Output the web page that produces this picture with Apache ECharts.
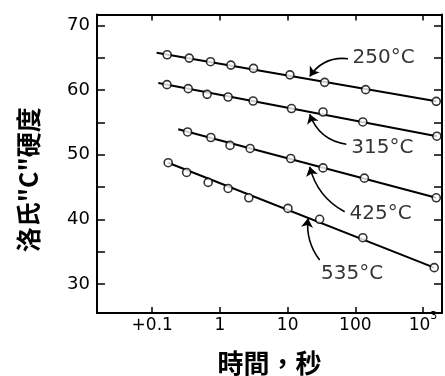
<!DOCTYPE html>
<html><head><meta charset="utf-8">
<script src="https://cdn.jsdelivr.net/npm/echarts@6/dist/echarts.min.js"></script>
<style>html,body{margin:0;padding:0;background:#fff}#c{width:445px;height:376px}</style>
</head><body><div id="c"></div>
<script>
const temps = ['250°C', '315°C', '425°C', '535°C'];
const time250 = [0.166, 0.352, 0.726, 1.45, 3.13, 10.8, 35.2, 142, 1567];
const hrc250  = [65.47, 64.95, 64.39, 63.87, 63.36, 62.36, 61.2, 60.07, 58.26];
const time315 = [0.165, 0.340, 0.647, 1.32, 3.09, 11.4, 33.3, 129, 1600];
const hrc315  = [60.84, 60.22, 59.34, 58.93, 58.31, 57.14, 56.61, 55.07, 52.86];
const time425 = [0.333, 0.735, 1.41, 2.79, 11.1, 33.3, 136, 1567];
const hrc425  = [53.52, 52.66, 51.44, 50.97, 49.41, 47.96, 46.37, 43.33];
const time535 = [0.172, 0.322, 0.670, 1.32, 2.67, 10.1, 29.7, 129, 1462];
const hrc535  = [48.76, 47.25, 45.71, 44.78, 43.33, 41.69, 40.0, 37.15, 32.52];
// fitted straight lines (start / end)
const fitStartTime = [0.116, 0.123, 0.242, 0.172];
const fitStartHrc  = [65.78, 61.09, 53.94, 48.76];
const fitEndTime   = [1567, 1600, 1567, 1462];
const fitEndHrc    = [58.26, 52.86, 43.33, 32.52];
// annotation labels and arrows
const labelTime = [261, 250, 236, 89.8];
const labelHrc  = [64.98, 51.0, 40.89, 31.54];
const arrowFromTime = [77.8, 73.6, 69.5, 29.7];
const arrowFromHrc  = [64.86, 51.62, 41.17, 33.71];
const arrowToTime   = [21.2, 21.2, 21.2, 20.0];
const arrowToHrc    = [62.12, 56.25, 48.12, 40.15];
const arrowCurve    = [-0.3, 0.3, 0.22, 0.2];
// axis ticks
const xTickValues = [0.1, 1, 10, 100, 1000];
const xTickLabels = ['{b|+0.1}', '{b|1}', '{b|10}', '{b|100}', '{b|10}{s|3}'];
const yTickValues = [30, 40, 50, 60, 70];

const times = [time250, time315, time425, time535];
const hrcs = [hrc250, hrc315, hrc425, hrc535];

const FONT = 'DejaVu Sans';
const X_MIN = 0.01528, X_MAX = 1905, Y_MIN = 25.5, Y_MAX = 71.7;

function xLabel(v) {
  for (let i = 0; i < xTickValues.length; i++) {
    if (Math.abs(Math.log10(v) - Math.log10(xTickValues[i])) < 1e-6) return xTickLabels[i];
  }
  return '';
}
function yLabel(v) {
  return yTickValues.indexOf(v) >= 0 ? String(v) : '';
}

const axisLineStyle = { color: '#000', width: 2 };
const xBase = {
  type: 'log', logBase: 10, min: X_MIN, max: X_MAX,
  axisLine: { show: true, lineStyle: axisLineStyle },
  axisTick: { show: true, inside: true, length: 6, lineStyle: { color: '#000', width: 1.5 } },
  splitLine: { show: false }, minorTick: { show: false }, minorSplitLine: { show: false }
};
const yBase = {
  type: 'value', min: Y_MIN, max: Y_MAX,
  axisLine: { show: true, lineStyle: axisLineStyle },
  axisTick: { show: true, inside: true, length: 8, lineStyle: { color: '#000', width: 1.5 } },
  minorTick: { show: true, splitNumber: 2, length: 8, lineStyle: { color: '#000', width: 1.5 } },
  splitLine: { show: false }
};

const series = [];
for (let i = 0; i < temps.length; i++) {
  series.push({
    type: 'line', name: temps[i] + ' fit',
    data: [[fitStartTime[i], fitStartHrc[i]], [fitEndTime[i], fitEndHrc[i]]],
    symbol: 'none', lineStyle: { color: '#000', width: 2 },
    silent: true, z: 2
  });
  series.push({
    type: 'lines', name: temps[i] + ' arrow', coordinateSystem: 'cartesian2d',
    xAxisIndex: 0, yAxisIndex: 0, silent: true, z: 2,
    symbol: ['none', 'arrow'], symbolSize: [0, 9],
    lineStyle: { color: '#000', width: 1.6, opacity: 1, curveness: arrowCurve[i] },
    data: [{ coords: [[arrowFromTime[i], arrowFromHrc[i]], [arrowToTime[i], arrowToHrc[i]]] }]
  });
  series.push({
    type: 'scatter', name: temps[i],
    data: times[i].map((t, j) => [t, hrcs[i][j]]),
    symbol: 'circle', symbolSize: 8,
    itemStyle: { color: '#fff', borderColor: '#000', borderWidth: 1.6 },
    z: 3
  });
  series.push({
    type: 'scatter', name: temps[i] + ' label',
    data: [{ value: [labelTime[i], labelHrc[i]], name: temps[i] }],
    symbolSize: 0, silent: true,
    label: { show: true, position: 'inside', formatter: '{b}', color: '#000', fontSize: 20, fontFamily: FONT },
    z: 4
  });
}

const chart = echarts.init(document.getElementById('c'), null, { renderer: 'canvas' });
chart.setOption({
  animation: false,
  backgroundColor: '#fff',
  grid: { left: 97, right: 3, top: 14.5, bottom: 63, containLabel: false, outerBoundsMode: 'none' },
  xAxis: [
    Object.assign({}, xBase, {
      position: 'bottom',
      name: '時間，秒', nameLocation: 'middle', nameGap: 37,
      nameTextStyle: { fontFamily: 'Noto Sans CJK TC', fontWeight: 'bold', fontSize: 26, color: '#000' },
      axisLabel: {
        show: true, margin: -2, formatter: xLabel, color: '#000', fontSize: 17, fontFamily: FONT,
        showMinLabel: true, showMaxLabel: true,
        rich: {
          b: { fontSize: 17, lineHeight: 18, fontFamily: FONT, color: '#000', padding: [12, 0, 0, 0] },
          s: { fontSize: 11, lineHeight: 11, fontFamily: FONT, color: '#000', verticalAlign: 'top' }
        }
      }
    }),
    Object.assign({}, xBase, { position: 'top', axisLabel: { show: false } })
  ],
  yAxis: [
    Object.assign({}, yBase, {
      position: 'left',
      name: '洛氏"C"硬度', nameLocation: 'middle', nameGap: 56, nameRotate: 90,
      nameTextStyle: { fontFamily: 'Noto Sans CJK TC', fontWeight: 'bold', fontSize: 25, color: '#000', padding: [0, 32, 0, 0] },
      axisLabel: { show: true, margin: 7, formatter: yLabel, color: '#000', fontSize: 18, fontFamily: FONT }
    }),
    Object.assign({}, yBase, { position: 'right', axisLabel: { show: false } })
  ],
  series: series
});
</script>
</body></html>
